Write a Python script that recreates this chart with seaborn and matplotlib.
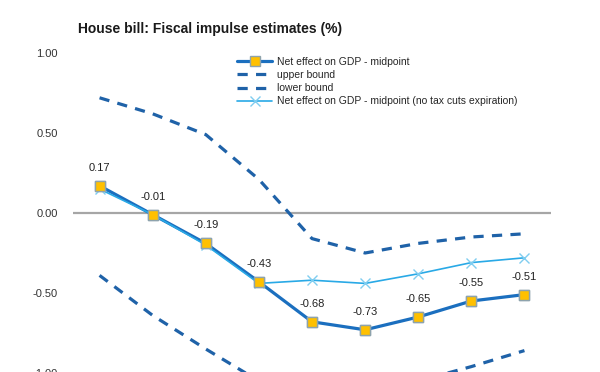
import matplotlib
matplotlib.use("Agg")
import matplotlib.pyplot as plt
import seaborn as sns
import pandas as pd

# categories are cropped out of the reference, so only their count matters
periods = ["Y1", "Y2", "Y3", "Y4", "Y5", "Y6", "Y7", "Y8", "Y9"]

midpoint = [0.17, -0.01, -0.19, -0.43, -0.68, -0.73, -0.65, -0.55, -0.51]
upper_bound = [0.72, 0.62, 0.49, 0.21, -0.16, -0.25, -0.19, -0.15, -0.13]
lower_bound = [-0.39, -0.64, -0.85, -1.05, -1.15, -1.13, -1.05, -0.96, -0.86]
no_expiration = [0.15, -0.01, -0.20, -0.44, -0.42, -0.44, -0.38, -0.31, -0.28]

y_ticks = [1.0, 0.5, 0.0, -0.5, -1.0]

sns.set_theme(style="white")
plt.rcParams["font.family"] = ["Liberation Sans", "DejaVu Sans"]

df = pd.DataFrame({
    "period": periods,
    "mid": midpoint,
    "upper": upper_bound,
    "lower": lower_bound,
    "notax": no_expiration,
})

fig = plt.figure(figsize=(6.0, 3.72), dpi=100)
# axes runs a bit below the bottom edge, like the cropped reference
ax = fig.add_axes([73 / 600, -1 / 372, 478 / 600, 320 / 372])

ax.axhline(0, color="#a6a6a6", lw=1.6, zorder=1)

dash = (0, (3.2, 2.6))
marker_style = dict(marker="s", markersize=7, markerfacecolor="#ffc000",
                    markeredgecolor="#8ea3ad", markeredgewidth=1.0)

sns.lineplot(data=df, x="period", y="mid", sort=False, ax=ax, color="#1b6fbf", lw=2.3,
             label="Net effect on GDP - midpoint", zorder=2.2, **marker_style)
sns.lineplot(data=df, x="period", y="upper", sort=False, ax=ax, color="#1f62a8", lw=2.3,
             label="upper bound", zorder=2)
sns.lineplot(data=df, x="period", y="lower", sort=False, ax=ax, color="#1f62a8", lw=2.3,
             label="lower bound", zorder=2)
sns.lineplot(data=df, x="period", y="notax", sort=False, ax=ax, color="#29a9e6", lw=1.2,
             marker="x", markersize=7, markeredgecolor="#7fcdf0", markeredgewidth=1.0,
             label="Net effect on GDP - midpoint (no tax cuts expiration)", zorder=2.5)

# dashed bounds
for line in ax.lines[2:4]:
    line.set_linestyle(dash)

# square markers again on top of the light blue line
sns.scatterplot(data=df, x="period", y="mid", ax=ax, marker="s", s=52, color="#ffc000",
                edgecolor="#8ea3ad", linewidth=1.0, zorder=4, legend=False)

for i, v in enumerate(midpoint):
    ax.annotate(f"{v:.2f}", (i, v), xytext=(0, 13), textcoords="offset points",
                ha="center", va="center", fontsize=8, color="#222222")

ax.set_xlim(-0.5, len(periods) - 0.5)
ax.set_ylim(-1.0, 1.0)
ax.set_yticks(y_ticks)
ax.set_yticklabels([f"{t:.2f}" for t in y_ticks])
ax.tick_params(axis="y", length=0, pad=11, labelsize=8, labelcolor="#333333")
ax.set_xticks([])
ax.set_xlabel("")
ax.set_ylabel("")
for s in ax.spines.values():
    s.set_visible(False)

handles, labels = ax.get_legend_handles_labels()
for h in handles[1:3]:
    h.set_linestyle(dash)
ax.legend(handles, labels, loc="upper left", bbox_to_anchor=(237 / 600, 1 - 57 / 372),
          bbox_transform=fig.transFigure, frameon=False, fontsize=7.5, borderpad=0,
          borderaxespad=0, handlelength=3.4, handletextpad=0.4, labelspacing=0.3)

fig.text(78 / 600, 1 - 29 / 372, "House bill: Fiscal impulse estimates (%)",
         fontsize=10, fontweight="bold", color="#1a1a1a", va="center", ha="left")

fig.savefig("out.png", dpi=100)
